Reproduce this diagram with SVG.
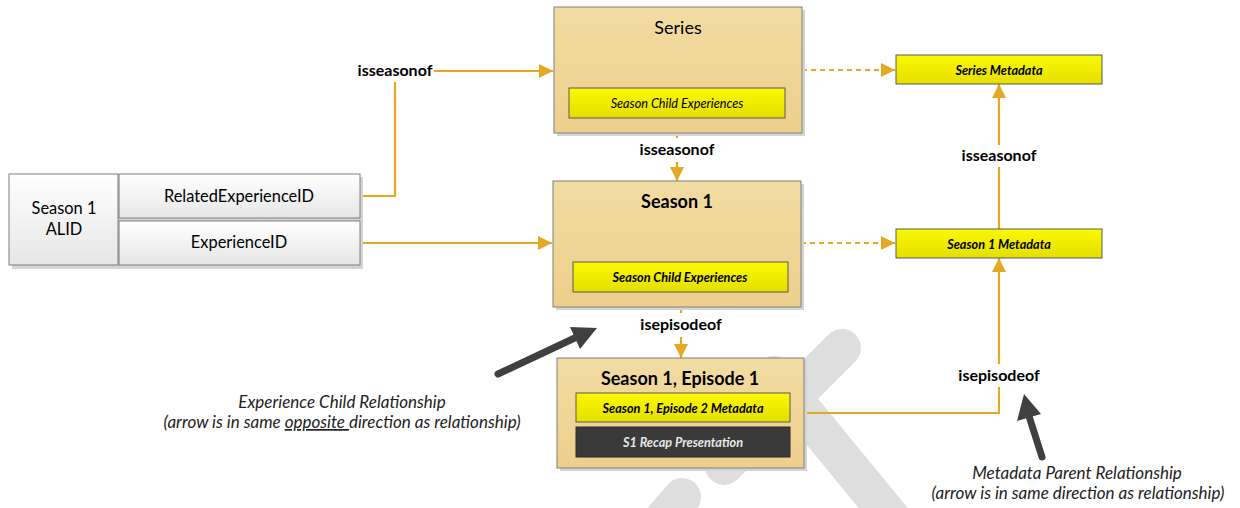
<svg xmlns="http://www.w3.org/2000/svg" width="1240" height="508" viewBox="0 0 1240 508">
<defs>
<linearGradient id="gBox" x1="0" y1="0" x2="0" y2="1"><stop offset="0" stop-color="#F2DCA2"/><stop offset="1" stop-color="#EDCF8C"/></linearGradient>
<linearGradient id="gYel" x1="0" y1="0" x2="0" y2="1"><stop offset="0" stop-color="#FAFA00"/><stop offset="1" stop-color="#E4DE00"/></linearGradient>
<linearGradient id="gCell" x1="0" y1="0" x2="0" y2="1"><stop offset="0" stop-color="#FFFFFF"/><stop offset="1" stop-color="#E6E6E6"/></linearGradient>
<marker id="ah" markerUnits="userSpaceOnUse" markerWidth="14" markerHeight="14" refX="14" refY="7" orient="auto"><path d="M0,0 L14,7 L0,14 z" fill="#E5A823"/></marker>
<style>
.box{fill:url(#gBox);stroke:#7F7F7F;stroke-width:1}
.shadow{fill:#D4D4D4}
.yel{fill:url(#gYel);stroke:#595959;stroke-width:1}
.dark{fill:#3A3A3A;stroke:#2A2A2A;stroke-width:1}
.cell{fill:url(#gCell);stroke:#7F7F7F;stroke-width:1}
.con{fill:none;stroke:#E5A823;stroke-width:2.2}
.dash{stroke-dasharray:5,4}
.t{font-family:Lato,"Liberation Sans",sans-serif;fill:#000;text-anchor:middle}
.title{font-size:18px}
.b{font-weight:bold}
.i{font-style:italic}
.small{font-size:12.7px}
.lbl{font-size:16px;font-weight:bold}
.cellt{font-size:16.4px}
.note{font-size:17px;font-style:italic;fill:#222}
.wm{fill:none;stroke:#DEDEDE;stroke-width:38;stroke-linecap:round}
.pointer{fill:none;stroke:#404040;stroke-width:7;stroke-linecap:round}
</style>
</defs>
<rect width="1240" height="508" fill="#FFFFFF"/>
<g id="watermark">
<line class="wm" x1="842" y1="348" x2="724" y2="466"/>
<line class="wm" x1="774" y1="375" x2="939" y2="576"/>
<line class="wm" x1="682" y1="497" x2="640" y2="546"/>
</g>
<g id="connectors">
<polyline class="con" points="360,196 395,196 395,82"/>
<line class="con" x1="434" y1="71" x2="553" y2="71" marker-end="url(#ah)"/>
<text class="t lbl" x="395" y="76">isseasonof</text>
<line class="con" x1="360" y1="243" x2="552" y2="243" marker-end="url(#ah)"/>
<line class="con" x1="677" y1="118" x2="677" y2="138"/>
<text class="t lbl" x="677" y="155">isseasonof</text>
<line class="con" x1="677" y1="162" x2="677" y2="181" marker-end="url(#ah)"/>
<line class="con" x1="681" y1="292" x2="681" y2="313"/>
<text class="t lbl" x="681" y="330">isepisodeof</text>
<line class="con" x1="681" y1="337" x2="681" y2="358" marker-end="url(#ah)"/>
<line class="con dash" x1="802" y1="70" x2="895" y2="70" marker-end="url(#ah)"/>
<line class="con dash" x1="801" y1="243" x2="895" y2="243" marker-end="url(#ah)"/>
<polyline class="con" points="804,413 999,413 999,387"/>
<text class="t lbl" x="999" y="381">isepisodeof</text>
<line class="con" x1="999" y1="364" x2="999" y2="258" marker-end="url(#ah)"/>
<line class="con" x1="999" y1="229" x2="999" y2="167"/>
<text class="t lbl" x="999" y="161">isseasonof</text>
<line class="con" x1="999" y1="145" x2="999" y2="84" marker-end="url(#ah)"/>
</g>
<g id="alid">
<rect class="shadow" x="12" y="177" width="351" height="92"/>
<rect class="cell" x="9" y="174" width="109" height="91"/>
<rect class="cell" x="119" y="174" width="241" height="44"/>
<rect class="cell" x="119" y="221" width="241" height="44"/>
<text class="t cellt" x="64" y="214">Season 1</text>
<text class="t cellt" x="64" y="235">ALID</text>
<text class="t cellt" x="239" y="202">RelatedExperienceID</text>
<text class="t cellt" x="239" y="248">ExperienceID</text>
</g>
<g id="series">
<rect class="shadow" x="557" y="10" width="248" height="126"/>
<rect class="box" x="554" y="7" width="248" height="126"/>
<text class="t title" x="678" y="34">Series</text>
<rect class="yel" x="569" y="88" width="216" height="30"/>
<text class="t small i" x="677" y="107.5">Season Child Experiences</text>
</g>
<g id="season1">
<rect class="shadow" x="556" y="184" width="248" height="126"/>
<rect class="box" x="553" y="181" width="248" height="126"/>
<text class="t title b" x="677" y="208">Season 1</text>
<rect class="yel" x="573" y="262" width="215" height="30"/>
<text class="t small b i" x="680" y="281.5">Season Child Experiences</text>
</g>
<g id="episode1">
<rect class="shadow" x="560" y="361" width="247" height="110"/>
<rect class="box" x="557" y="358" width="247" height="110"/>
<text class="t title b" x="680" y="385">Season 1, Episode 1</text>
<rect class="yel" x="576" y="393" width="214" height="29"/>
<text class="t small b i" x="683" y="412.5">Season 1, Episode 2 Metadata</text>
<rect class="dark" x="576" y="427" width="214" height="30"/>
<text class="t small b i" x="683" y="446.5" style="fill:#E8E8E8">S1 Recap Presentation</text>
</g>
<g id="seriesMetadata">
<rect class="yel" x="896" y="55" width="206" height="29"/>
<text class="t small b i" x="999" y="74.5">Series Metadata</text>
</g>
<g id="season1Metadata">
<rect class="yel" x="896" y="229" width="206" height="29"/>
<text class="t small b i" x="999" y="248.5">Season 1 Metadata</text>
</g>
<g id="experienceChildNote">
<line class="pointer" x1="498" y1="374" x2="579" y2="336"/>
<polygon points="597,328 580,349 570,327" fill="#404040"/>
<text class="t note" x="342" y="408">Experience Child Relationship</text>
<text class="t note" x="342" y="428">(arrow is in same <tspan text-decoration="underline">opposite </tspan>direction as relationship)</text>
</g>
<g id="metadataParentNote">
<line class="pointer" x1="1042" y1="457" x2="1028" y2="413"/>
<polygon points="1024,394 1041,414 1017,421" fill="#404040"/>
<text class="t note" x="1077" y="479">Metadata Parent Relationship</text>
<text class="t note" x="1078" y="499">(arrow is in same direction as relationship)</text>
</g>
</svg>
